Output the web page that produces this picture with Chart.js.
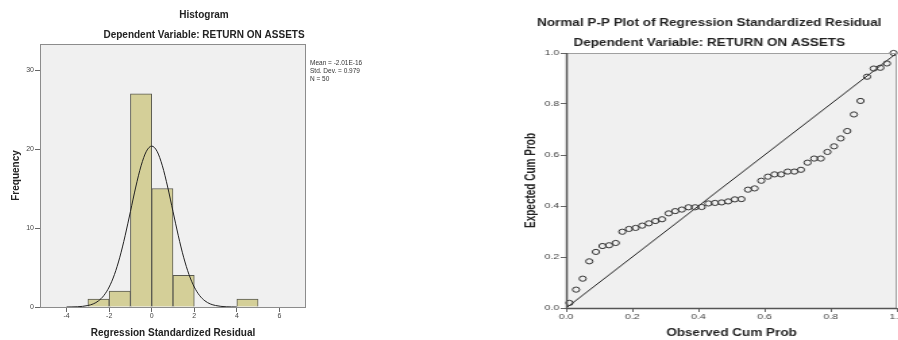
<!DOCTYPE html>
<html>
<head>
<meta charset="utf-8">
<script src="https://cdn.jsdelivr.net/npm/chart.js@4/dist/chart.umd.min.js"></script>
<style>
  html, body { margin: 0; padding: 0; background: #fff; overflow: hidden; width: 898px; height: 340px; }
  #histWrap { position: absolute; left: 0; top: 0; width: 408px; height: 340px; }
  #ppWrap { position: absolute; left: 450px; top: 0; width: 400px; height: 340px; transform: scaleX(1.35); transform-origin: 0 0; }
</style>
</head>
<body>
<div id="histWrap"><canvas id="chart" width="408" height="340"></canvas></div>
<div id="ppWrap"><canvas id="chart2" width="400" height="340"></canvas></div>
<script>
// histogram of standardized residuals
var binCenters = [-2.5, -1.5, -0.5, 0.5, 1.5, 4.5];
var binCounts = [1, 2, 27, 15, 4, 1];
var curveX = [-4, -3.75, -3.5, -3.25, -3, -2.75, -2.5, -2.25, -2, -1.75, -1.5, -1.25, -1, -0.75, -0.5, -0.25,
              0, 0.25, 0.5, 0.75, 1, 1.25, 1.5, 1.75, 2, 2.25, 2.5, 2.75, 3, 3.25, 3.5, 3.75, 4];
var curveY = [0, 0.01, 0.03, 0.08, 0.19, 0.39, 0.78, 1.45, 2.53, 4.12, 6.30, 9.02, 12.09, 15.19, 17.88, 19.72,
              20.37, 19.72, 17.88, 15.19, 12.09, 9.02, 6.30, 4.12, 2.53, 1.45, 0.78, 0.39, 0.19, 0.08, 0.03, 0.01, 0];
var histXTicks = [-4, -2, 0, 2, 4, 6];
var histYTicks = [0, 10, 20, 30];
var histStats = ['Mean = -2.01E-16', 'Std. Dev. = 0.979', 'N = 50'];

// normal P-P plot
var ppObserved = [0.01, 0.03, 0.05, 0.07, 0.09, 0.11, 0.13, 0.15, 0.17, 0.19,
                  0.21, 0.23, 0.25, 0.27, 0.29, 0.31, 0.33, 0.35, 0.37, 0.39,
                  0.41, 0.43, 0.45, 0.47, 0.49, 0.51, 0.53, 0.55, 0.57, 0.59,
                  0.61, 0.63, 0.65, 0.67, 0.69, 0.71, 0.73, 0.75, 0.77, 0.79,
                  0.81, 0.83, 0.85, 0.87, 0.89, 0.91, 0.93, 0.95, 0.97, 0.99];
var ppExpected = [0.020, 0.072, 0.115, 0.183, 0.220, 0.243, 0.246, 0.255, 0.299, 0.310,
                  0.314, 0.323, 0.332, 0.341, 0.348, 0.371, 0.380, 0.386, 0.395, 0.395,
                  0.396, 0.410, 0.412, 0.414, 0.418, 0.426, 0.427, 0.464, 0.469, 0.499,
                  0.515, 0.524, 0.524, 0.535, 0.535, 0.542, 0.570, 0.586, 0.586, 0.612,
                  0.634, 0.665, 0.694, 0.759, 0.812, 0.907, 0.939, 0.942, 0.959, 1.000];
var ppTicks = [0, 0.2, 0.4, 0.6, 0.8, 1];
var refLine = [0, 1];

var histTitle = 'Histogram';
var depTitle = 'Dependent Variable: RETURN ON ASSETS';
var ppTitle = 'Normal P-P Plot of Regression Standardized Residual';

Chart.defaults.font.family = '"Liberation Sans", Arial, sans-serif';
Chart.defaults.color = '#444';

// grey plot background + frame, titles drawn above the frame
var frame = {
    id: 'frame',
    beforeDraw: function (chart, args, opts) {
        var a = chart.chartArea, ctx = chart.ctx;
        ctx.save();
        ctx.fillStyle = '#F0F0F0';
        ctx.fillRect(a.left, a.top, a.right - a.left, a.bottom - a.top);
        ctx.restore();
    },
    afterDraw: function (chart, args, opts) {
        var a = chart.chartArea, ctx = chart.ctx;
        ctx.save();
        ctx.strokeStyle = opts.boxColor;
        ctx.lineWidth = 1;
        ctx.strokeRect(a.left + 0.5, a.top + 0.5, a.right - a.left - 1, a.bottom - a.top);
        if (opts.axisColor) {
            ctx.strokeStyle = opts.axisColor;
            ctx.lineWidth = 1.5;
            ctx.beginPath();
            ctx.moveTo(a.left + 0.5, a.top);
            ctx.lineTo(a.left + 0.5, a.bottom + 0.5);
            ctx.lineTo(a.right, a.bottom + 0.5);
            ctx.stroke();
        }
        ctx.fillStyle = '#222';
        ctx.font = 'bold 10px "Liberation Sans", Arial, sans-serif';
        ctx.textAlign = 'center';
        ctx.textBaseline = 'middle';
        opts.titles.forEach(function (t) {
            ctx.fillText(t.text, t.x, t.y);
        });
        if (opts.notes) {
            ctx.fillStyle = '#333';
            ctx.font = '6.5px "Liberation Sans", Arial, sans-serif';
            ctx.textAlign = 'left';
            opts.notes.forEach(function (s, i) {
                ctx.fillText(s, a.right + 4, a.top + 19 + i * 8);
            });
        }
        ctx.restore();
    }
};

var chartHist = new Chart(
    document.getElementById('chart'),
    {
        type: 'bar',
        data: {
            datasets: [{
                type: 'line',
                label: 'Normal',
                data: curveX.map(function (x, i) { return {x: x, y: curveY[i]}; }),
                borderColor: '#222',
                borderWidth: 1,
                pointRadius: 0,
                cubicInterpolationMode: 'monotone',
                fill: false,
                order: 0
            },
            {
                label: 'Frequency',
                data: binCenters.map(function (x, i) { return {x: x, y: binCounts[i]}; }),
                backgroundColor: '#D4CF98',
                borderColor: '#5a5a50',
                borderWidth: 1,
                barPercentage: 1,
                categoryPercentage: 1,
                order: 1
            }]
        },
        options: {
            responsive: false,
            animation: false,
            layout: { padding: { top: 44, right: 102, left: 0, bottom: 0 } },
            plugins: {
                legend: { display: false },
                tooltip: { enabled: false },
                frame: {
                    boxColor: '#8c8c8c',
                    titles: [
                        { text: histTitle, x: 204, y: 15 },
                        { text: depTitle, x: 204, y: 35 }
                    ],
                    notes: histStats
                }
            },
            scales: {
                x: {
                    type: 'linear',
                    min: -5.25,
                    max: 7.25,
                    offset: false,
                    afterBuildTicks: function (s) { s.ticks = histXTicks.map(function (v) { return {value: v}; }); },
                    afterFit: function (s) { s.height = 33; },
                    grid: { offset: false, drawOnChartArea: false, tickLength: 5, color: '#666' },
                    border: { display: false },
                    ticks: { padding: 0, font: { size: 7 }, maxRotation: 0 },
                    title: {
                        display: true,
                        text: 'Regression Standardized Residual',
                        color: '#222',
                        font: { size: 10, weight: 'bold' },
                        padding: { top: 0, bottom: 1 }
                    }
                },
                y: {
                    min: 0,
                    max: 33.3,
                    afterBuildTicks: function (s) { s.ticks = histYTicks.map(function (v) { return {value: v}; }); },
                    afterFit: function (s) { s.width = 40; },
                    grid: { drawOnChartArea: false, tickLength: 5, color: '#666' },
                    border: { display: false },
                    ticks: { padding: 1, font: { size: 7 } },
                    title: {
                        display: true,
                        text: 'Frequency',
                        color: '#222',
                        font: { size: 10, weight: 'bold' },
                        padding: { top: 10, bottom: 0 }
                    }
                }
            }
        },
        plugins: [frame]
    }
);

var chartPP = new Chart(
    document.getElementById('chart2'),
    {
        type: 'scatter',
        data: {
            datasets: [{
                label: 'Observed',
                data: ppObserved.map(function (x, i) { return {x: x, y: ppExpected[i]}; }),
                backgroundColor: 'rgba(0,0,0,0)',
                borderColor: '#333',
                pointRadius: 2.6,
                pointBorderWidth: 1,
                clip: 4
            },
            {
                label: 'Reference',
                type: 'line',
                data: refLine.map(function (v) { return {x: v, y: v}; }),
                borderColor: '#222',
                borderWidth: 1,
                pointRadius: 0,
                fill: false
            }]
        },
        options: {
            responsive: false,
            animation: false,
            layout: { padding: { top: 53, right: 69, left: 0, bottom: 0 } },
            plugins: {
                legend: { display: false },
                tooltip: { enabled: false },
                frame: {
                    boxColor: '#a0a0a0',
                    axisColor: '#555',
                    titles: [
                        { text: ppTitle, x: 192, y: 23 },
                        { text: depTitle, x: 192, y: 43 }
                    ]
                }
            },
            scales: {
                x: {
                    type: 'linear',
                    min: 0,
                    max: 1,
                    afterBuildTicks: function (s) { s.ticks = ppTicks.map(function (v) { return {value: v}; }); },
                    afterFit: function (s) { s.height = 32; },
                    grid: { drawOnChartArea: false, tickLength: 4, color: '#666' },
                    border: { display: false },
                    ticks: { padding: 0, font: { size: 8 }, maxRotation: 0, callback: function (v) { return v.toFixed(1); } },
                    title: {
                        display: true,
                        text: 'Observed Cum Prob',
                        color: '#222',
                        font: { size: 10, weight: 'bold' },
                        padding: { top: 0, bottom: 1 }
                    }
                },
                y: {
                    min: 0,
                    max: 1,
                    afterBuildTicks: function (s) { s.ticks = ppTicks.map(function (v) { return {value: v}; }); },
                    afterFit: function (s) { s.width = 86; },
                    grid: { drawOnChartArea: false, tickLength: 4, color: '#666' },
                    border: { display: false },
                    ticks: { padding: 1, font: { size: 8 }, callback: function (v) { return v.toFixed(1); } },
                    title: {
                        display: true,
                        text: 'Expected Cum Prob',
                        color: '#222',
                        font: { size: 10, weight: 'bold' },
                        padding: { top: 54, bottom: 0 }
                    }
                }
            }
        },
        plugins: [frame]
    }
);
</script>
</body>
</html>
